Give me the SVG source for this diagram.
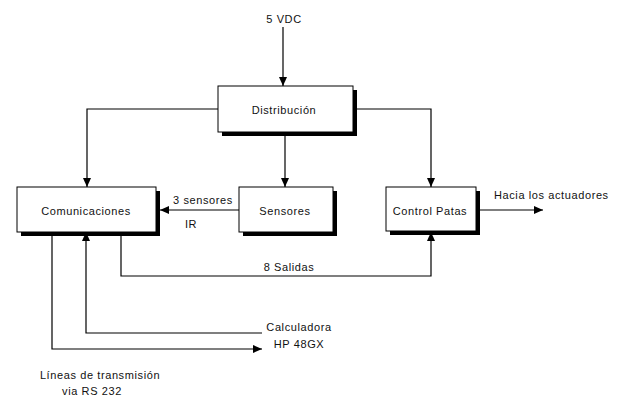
<svg xmlns="http://www.w3.org/2000/svg" width="622" height="398" viewBox="0 0 622 398">
<style>
.box{fill:#fff;stroke:#000;stroke-width:1}
.sh{fill:#000}
.ln{fill:none;stroke:#000;stroke-width:1.2}
text{font-family:"Liberation Sans",Arial,sans-serif;font-size:11px;letter-spacing:0.6px;fill:#111}
.m{text-anchor:middle}
</style>
<defs>
<marker id="ah" markerWidth="10" markerHeight="10" refX="9" refY="5" orient="auto" markerUnits="userSpaceOnUse">
<path d="M0,1 L9,5 L0,9 Z" fill="#000"/>
</marker>
</defs>
<rect width="622" height="398" fill="#fff"/>
<g id="connectors">
<line class="ln" x1="283" y1="27" x2="283" y2="86" marker-end="url(#ah)"/>
<polyline class="ln" points="218,109 87,109 87,187" marker-end="url(#ah)"/>
<line class="ln" x1="285" y1="132" x2="285" y2="187" marker-end="url(#ah)"/>
<polyline class="ln" points="353,109 431,109 431,187" marker-end="url(#ah)"/>
<line class="ln" x1="239" y1="210" x2="160" y2="210" marker-end="url(#ah)"/>
<line class="ln" x1="476" y1="210" x2="543" y2="210" marker-end="url(#ah)"/>
<polyline class="ln" points="121,232 121,276 431,276 431,232" marker-end="url(#ah)"/>
<polyline class="ln" points="262,333 86,333 86,232" marker-end="url(#ah)"/>
<polyline class="ln" points="52,232 52,349 262,349" marker-end="url(#ah)"/>
<text class="m" x="203" y="204">3 sensores</text>
<text class="m" x="191" y="228">IR</text>
<text x="494" y="199">Hacia los actuadores</text>
<text class="m" x="289" y="271">8 Salidas</text>
<text class="m" x="299" y="331">Calculadora</text>
<text class="m" x="299" y="348">HP 48GX</text>
<text class="m" x="100" y="379">Líneas de transmisión</text>
<text class="m" x="92" y="395">via RS 232</text>
</g>
<g id="vdc"><text class="m" x="284" y="23">5 VDC</text></g>
<g id="distribucion">
<rect class="sh" x="222" y="90" width="135" height="46"/>
<rect class="box" x="218" y="86" width="135" height="46"/>
<text class="m" x="284" y="114">Distribución</text>
</g>
<g id="comunicaciones">
<rect class="sh" x="21" y="191" width="139" height="45"/>
<rect class="box" x="17" y="187" width="139" height="45"/>
<text class="m" x="86" y="215">Comunicaciones</text>
</g>
<g id="sensores">
<rect class="sh" x="243" y="191" width="94" height="45"/>
<rect class="box" x="239" y="187" width="94" height="45"/>
<text class="m" x="285" y="215">Sensores</text>
</g>
<g id="control">
<rect class="sh" x="390" y="191" width="90" height="44"/>
<rect class="box" x="386" y="187" width="90" height="44"/>
<text class="m" x="430" y="215">Control Patas</text>
</g>
</svg>
